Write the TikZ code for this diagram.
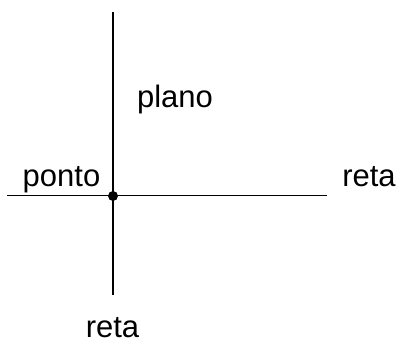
\documentclass[tikz,border=0pt]{standalone}
\usepackage{fontspec}
\setmainfont{Liberation Sans}
\begin{document}
\begin{tikzpicture}[x=1pt,y=-1pt,
  lbl/.style={anchor=base,inner sep=0pt,font=\fontsize{31}{36}\selectfont},
  ln/.style={line width=1.1pt,black}]
\useasboundingbox (0,0) rectangle (401,342);
\coordinate (vt) at (113,12);
\coordinate (vb) at (113,295);
\coordinate (hl) at (7,195.5);
\coordinate (hr) at (327,195.5);
\coordinate (o) at (113,196);
\draw[ln] (vt) -- (vb);
\draw[ln] (hl) -- (hr);
\fill (o) circle (5);
\node[lbl] (plano) at (175,108) {plano};
\node[lbl] (ponto) at (61.5,186) {ponto};
\node[lbl] (retar) at (369,186) {reta};
\node[lbl] (retab) at (112.5,337) {reta};
\end{tikzpicture}
\end{document}
